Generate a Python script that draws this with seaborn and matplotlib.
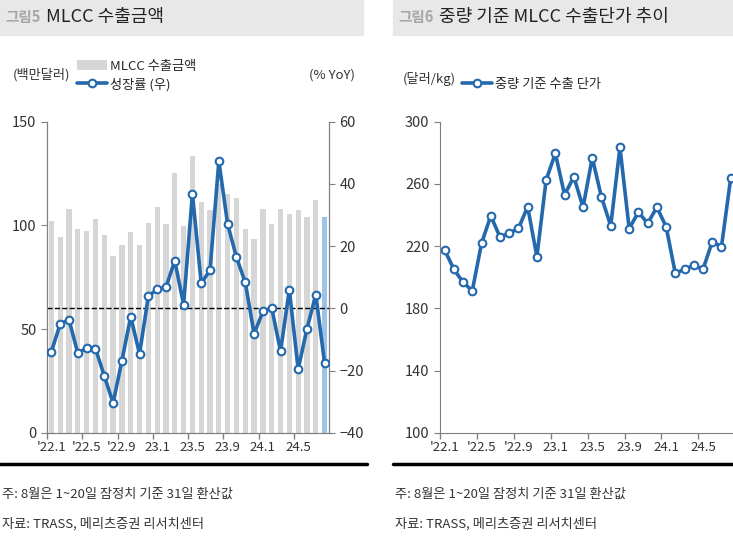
import numpy as np
import matplotlib
matplotlib.use("Agg")
import matplotlib.pyplot as plt
from matplotlib.patches import Rectangle, Patch
from matplotlib.lines import Line2D
import seaborn as sns

# 2022.1 ~ 2024.8, monthly
months = [f"{y}.{m}" for y in (22, 23, 24) for m in range(1, 13)][:32]
tick_labels = ["'22.1", "'22.5", "'22.9", "23.1", "23.5", "23.9", "24.1", "24.5"]

# MLCC export value (USD mn)
export_amt = [102.3, 94.3, 107.9, 98.1, 97.5, 103.1, 95.2, 85.4, 90.4, 97.0, 90.4, 101.2,
              109.0, 100.8, 125.1, 99.6, 133.3, 111.3, 107.4, 120.0, 115.0, 113.1, 98.1, 93.3,
              108.1, 100.8, 108.1, 105.6, 107.4, 104.2, 112.3, 103.9]
# growth (% YoY, right axis)
growth = [-13.9, -5.0, -3.7, -14.5, -12.7, -13.0, -21.7, -30.5, -16.8, -2.7, -14.7, 3.9,
          6.1, 6.8, 15.3, 1.2, 36.8, 8.0, 12.3, 47.3, 27.0, 16.4, 8.3, -8.2,
          -1.0, 0.1, -13.8, 6.0, -19.6, -6.6, 4.4, -17.6]
# export unit price by weight (USD/kg)
unit_price = [217.5, 205.1, 196.7, 191.3, 221.8, 239.4, 225.9, 228.2, 231.4, 245.3, 213.2, 262.5,
              279.7, 252.9, 264.6, 245.0, 276.8, 251.4, 233.1, 283.5, 231.2, 241.9, 234.6, 245.0,
              232.5, 202.5, 205.1, 207.6, 205.1, 222.8, 219.6, 263.6]

BLUE = "#2468ad"
GRAY = "#d6d6d6"
LBLUE = "#9cc3e8"
SPINE = "#7f7f7f"

sns.set_style("ticks")
plt.rcParams["font.family"] = ["Noto Sans CJK KR", "DejaVu Sans"]
plt.rcParams["axes.edgecolor"] = SPINE
plt.rcParams["xtick.color"] = SPINE
plt.rcParams["ytick.color"] = SPINE
plt.rcParams["xtick.labelcolor"] = "#333333"
plt.rcParams["ytick.labelcolor"] = "#333333"

W, H = 733, 538
fig = plt.figure(figsize=(W / 100, H / 100), dpi=100)

def fx(px):
    return px / W

def fy(py):
    return 1 - py / H

x = np.arange(len(months))
tick_pos = x[::4]

# ---- header bands and footers ----
for x0, x1, num, title in [(0, 363, "그림5", "MLCC 수출금액"),
                           (393, 733, "그림6", "중량 기준 MLCC 수출단가 추이")]:
    fig.patches.append(Rectangle((fx(x0), fy(35)), fx(x1 - x0), 35 / H,
                                 transform=fig.transFigure, color="#e8e8e8", zorder=0))
    fig.text(fx(x0 + 5), fy(17), num, color="#a6a6a6", fontsize=10.5, fontweight="bold", va="center")
    fig.text(fx(x0 + 46), fy(17), title, color="#222222", fontsize=13, va="center")
    fig.add_artist(Line2D([fx(x0), fx(x1 + 4 if x0 == 0 else x1)], [fy(464), fy(464)],
                          transform=fig.transFigure, color="black", lw=2.5))
    fig.text(fx(x0 + 2), fy(494), "주: 8월은 1~20일 잠정치 기준 31일 환산값", fontsize=9.5,
             color="#333333", va="center")
    fig.text(fx(x0 + 2), fy(524), "자료: TRASS, 메리츠증권 리서치센터", fontsize=9.5,
             color="#333333", va="center")

# ---- left: export amount + growth ----
ax = fig.add_axes([fx(47), fy(432.7), fx(329 - 47), (432.7 - 121.7) / H])
bar_colors = [GRAY] * (len(months) - 1) + [LBLUE]
sns.barplot(x=months, y=export_amt, hue=months, palette=bar_colors, legend=False,
            width=0.6, dodge=False, saturation=1, linewidth=0, ax=ax)
ax.set_xlim(-0.5, 31.5)
ax.set_ylim(0, 150)
ax.set_yticks([0, 50, 100, 150])
ax.set_xticks(tick_pos)
ax.set_xticklabels(tick_labels)
ax.set_xticks(tick_pos - 0.5, minor=True)
ax.tick_params(axis="x", which="major", length=0, labelsize=9.5, pad=6)
ax.tick_params(axis="x", which="minor", length=4, width=1)
ax.tick_params(axis="y", length=4, labelsize=10.5)
ax.spines["top"].set_visible(False)
ax.set_xlabel("")
ax.set_ylabel("")

ax2 = ax.twinx()
ax2.axhline(0, color="black", ls="--", lw=1, zorder=1)
sns.lineplot(x=x, y=growth, ax=ax2, color=BLUE, lw=2.6, marker="o", markersize=5.5,
             markerfacecolor="white", markeredgecolor=BLUE, markeredgewidth=1.5, zorder=3)
ax2.set_ylim(-40, 60)
ax2.set_yticks([-40, -20, 0, 20, 40, 60])
ax2.tick_params(axis="y", length=4, labelsize=10.5)
ax2.spines["top"].set_visible(False)
ax2.set_ylabel("")

fig.text(fx(13), fy(75), "(백만달러)", fontsize=9.5, color="#333333", va="center")
fig.text(fx(355), fy(75), "(% YoY)", fontsize=9.5, color="#333333", va="center", ha="right")
handles = [Patch(facecolor=GRAY, edgecolor="none"),
           Line2D([], [], color=BLUE, lw=2.6, marker="o", markersize=5.5,
                  markerfacecolor="white", markeredgecolor=BLUE, markeredgewidth=1.5)]
fig.legend(handles, ["MLCC 수출금액", "성장률 (우)"], loc="upper left",
           bbox_to_anchor=(fx(77), fy(60)), frameon=False, fontsize=9.5,
           handlelength=2.3, handleheight=0.8, handletextpad=0.2, labelspacing=0.35,
           borderpad=0, borderaxespad=0)

# ---- right: unit price ----
ax3 = fig.add_axes([fx(440), fy(432.7), fx(733 - 440), (432.7 - 121.7) / H])
sns.lineplot(x=x, y=unit_price, ax=ax3, color=BLUE, lw=2.6, marker="o", markersize=5.5,
             markerfacecolor="white", markeredgecolor=BLUE, markeredgewidth=1.5, clip_on=False)
ax3.set_xlim(-0.5, 31.25)
ax3.set_ylim(100, 300)
ax3.set_yticks([100, 140, 180, 220, 260, 300])
ax3.set_xticks(tick_pos)
ax3.set_xticklabels(tick_labels)
ax3.set_xticks(tick_pos - 0.5, minor=True)
ax3.tick_params(axis="x", which="major", length=0, labelsize=9.5, pad=6)
ax3.tick_params(axis="x", which="minor", length=4, width=1)
ax3.tick_params(axis="y", length=4, labelsize=10.5)
ax3.spines["top"].set_visible(False)
ax3.spines["right"].set_visible(False)
ax3.set_ylabel("")

fig.text(fx(403), fy(79), "(달러/kg)", fontsize=9.5, color="#333333", va="center")
fig.legend([handles[1]], ["중량 기준 수출 단가"], loc="center left",
           bbox_to_anchor=(fx(462), fy(84)), frameon=False, fontsize=9.5,
           handlelength=2.3, handletextpad=0.2, borderpad=0, borderaxespad=0)

fig.savefig("out.png", dpi=100)
